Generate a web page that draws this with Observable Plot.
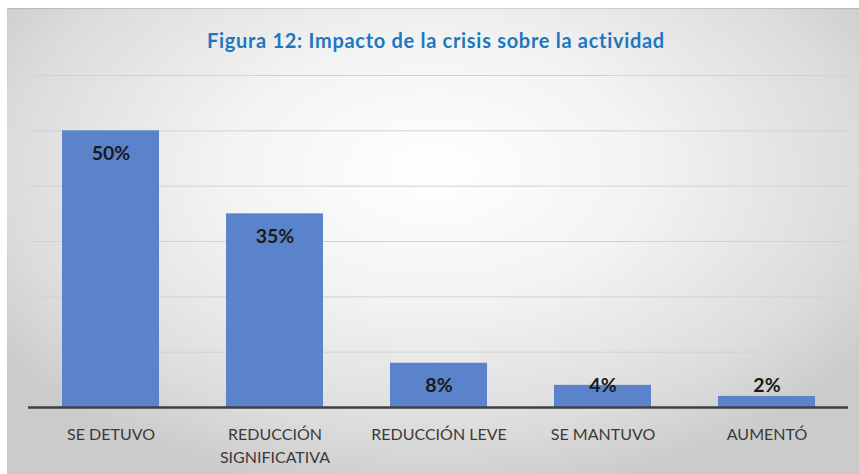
<!DOCTYPE html>
<html>
<head>
<meta charset="utf-8">
<script src="https://cdn.jsdelivr.net/npm/d3@7"></script>
<script src="https://cdn.jsdelivr.net/npm/@observablehq/plot@0.6"></script>
<style>
  html, body { margin: 0; padding: 0; background: #fff; width: 859px; height: 474px; overflow: hidden; }
  #frame { position: absolute; left: 7px; top: 8px; width: 852px; height: 466px;
    background: radial-gradient(ellipse 62% 70% at 50% 35%, #ffffff 0%, #f3f3f3 40%, #dcdcdc 80%, #cbcbcb 100%);
    box-shadow: inset 0 1px 1px rgba(0,0,0,0.12); }
  #title { position: absolute; left: 0; top: 28px; width: 872px; text-align: center;
    font-family: Lato, "Open Sans", sans-serif; font-weight: bold; font-size: 20px; letter-spacing: 0.7px;
    line-height: 24px; color: #1f77c0; }
  #chart { position: absolute; left: 0; top: 0; }
</style>
</head>
<body>
<div id="frame"></div>
<div id="title">Figura 12: Impacto de la crisis sobre la actividad</div>
<div id="chart"></div>
<script>
const categories = ["SE DETUVO", "REDUCCIÓN SIGNIFICATIVA", "REDUCCIÓN LEVE", "SE MANTUVO", "AUMENTÓ"];
const tickLabels = ["SE DETUVO", "REDUCCIÓN\nSIGNIFICATIVA", "REDUCCIÓN LEVE", "SE MANTUVO", "AUMENTÓ"];
const values = [50, 35, 8, 4, 2];
const gridTicks = [10, 20, 30, 40, 50, 60];

const data = categories.map((c, i) => ({cat: c, v: values[i], label: values[i] + "%"}));
const labelOf = new Map(categories.map((c, i) => [c, tickLabels[i]]));

const chart = Plot.plot({
  width: 859,
  height: 474,
  marginLeft: 28,
  marginRight: 11,
  marginTop: 75,
  marginBottom: 67,
  style: {background: "transparent", fontFamily: "Lato, 'Open Sans', sans-serif"},
  x: {domain: categories, paddingInner: 0.41, paddingOuter: 0.205, align: 0.5, axis: null},
  y: {domain: [0, 60], axis: null},
  marks: [
    Plot.ruleY(gridTicks, {stroke: "#d2d2d2", strokeWidth: 1}),
    Plot.barY(data, {x: "cat", y: "v", fill: "#5b83cb"}),
    Plot.ruleY([0], {stroke: "#3f3f3f", strokeWidth: 2.5}),
    Plot.text(data, {x: "cat", y: d => Math.max(d.v, 8), text: "label", dy: 23,
      fontSize: 19.5, fontWeight: "bold", fill: "#1a1a1a"}),
    Plot.axisX({tickSize: 0, tickPadding: 17, fontSize: 16, lineHeight: 1.4, label: null,
      tickFormat: d => labelOf.get(d), fill: "#3a3a3a"})
  ]
});
document.getElementById("chart").appendChild(chart);
</script>
</body>
</html>
